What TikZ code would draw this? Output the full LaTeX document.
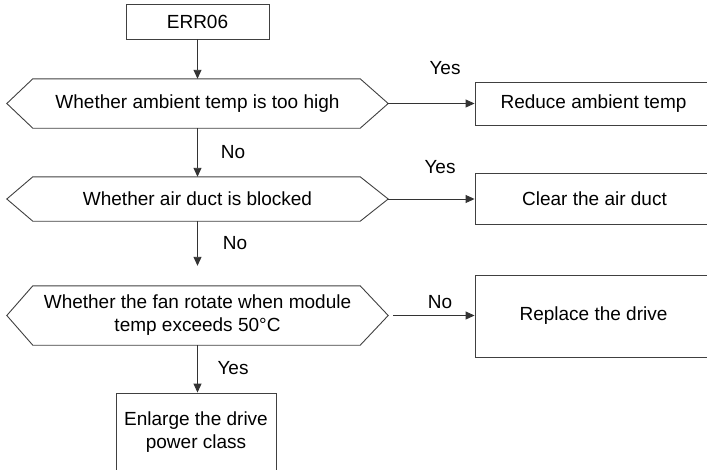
\documentclass[tikz,border=0pt]{standalone}
\usepackage{fontspec}
\setmainfont{Liberation Sans}
\usetikzlibrary{arrows.meta}
\begin{document}
\begin{tikzpicture}[x=1pt,y=-1pt,>={Triangle[length=9pt,width=8pt]},font=\fontsize{19}{23}\selectfont,
	box/.style={draw=black!75,line width=0.9pt,inner sep=0pt,align=center},
	test/.style={inner sep=0pt,minimum width=381pt,align=center},
	flow/.style={->,line width=0.9pt,draw=black!80,fill=black}]
	\useasboundingbox (0,0) rectangle (707,469);
	\clip (0,0) rectangle (707,469);
	% boxes
	\node[box,minimum width=143pt,minimum height=35pt] (err) at (197.5,21.5) {ERR06};
	\node[test,minimum height=49pt] (d1) at (197.5,103.5) {Whether ambient temp is too high};
	\node[test,minimum height=44pt] (d2) at (197.5,199) {Whether air duct is blocked};
	\node[test,minimum height=59pt] (d3) at (197.5,315.5) {Whether the fan rotate when module\\temp exceeds 50°C};
	\node[box,minimum width=237pt,minimum height=43pt] (r1) at (593.5,103.5) {Reduce ambient temp};
	\node[box,minimum width=239pt,minimum height=51pt] (r2) at (594.5,198.5) {Clear the air duct};
	\node[box,minimum width=237pt,minimum height=82pt] (r3) at (593.5,316) {Replace the drive};
	\node[box,minimum width=160pt,minimum height=79pt] (en) at (196,432.5) {Enlarge the drive\\power class};
	\foreach \d in {d1,d2,d3}
		\draw[black!75,line width=0.9pt] (\d.west) -- ([xshift=26pt]\d.north west) -- ([xshift=-28pt]\d.north east) -- (\d.east) -- ([xshift=-28pt]\d.south east) -- ([xshift=26pt]\d.south west) -- cycle;
	% arrows
	\draw[flow] (err) -- (d1);
	\draw[flow] (d1) -- (d2);
	\draw[flow,shorten >=20pt] (d2) -- (d3);
	\draw[flow] (d3) -- (d3 |- en.north);
	\draw[flow] (d1.east) -- (r1.west);
	\draw[flow] (d2.east) -- (d2.east -| r2.west);
	\draw[flow,shorten <=5pt] (d3.east) -- (d3.east -| r3.west);
	% labels
	\node (y1) at (445,68) {Yes};
	\node (y2) at (440,167) {Yes};
	\node (n3) at (440,302) {No};
	\node (n1) at (233,152) {No};
	\node (n2) at (235,243) {No};
	\node (y3) at (233,368) {Yes};
\end{tikzpicture}
\end{document}
